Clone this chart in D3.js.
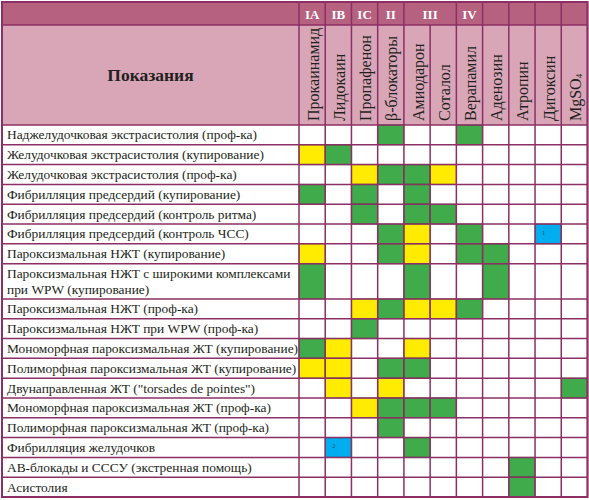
<!DOCTYPE html>
<html><head><meta charset="utf-8">
<script src="https://cdn.jsdelivr.net/npm/d3@7"></script>
<style>html,body{margin:0;padding:0;background:#fff}svg{display:block}</style>
</head><body>
<script>
// ---- data ----
const indications = [
  "Наджелудочковая экстрасистолия (проф-ка)",
  "Желудочковая экстрасистолия (купирование)",
  "Желудочковая экстрасистолия (проф-ка)",
  "Фибрилляция предсердий (купирование)",
  "Фибрилляция предсердий (контроль ритма)",
  "Фибрилляция предсердий (контроль ЧСС)",
  "Пароксизмальная НЖТ (купирование)",
  "Пароксизмальная НЖТ с широкими комплексами\nпри WPW (купирование)",
  "Пароксизмальная НЖТ (проф-ка)",
  "Пароксизмальная НЖТ при WPW (проф-ка)",
  "Мономорфная пароксизмальная ЖТ (купирование)",
  "Полиморфная пароксизмальная ЖТ (купирование)",
  "Двунаправленная ЖТ (\"torsades de pointes\")",
  "Мономорфная пароксизмальная ЖТ (проф-ка)",
  "Полиморфная пароксизмальная ЖТ (проф-ка)",
  "Фибрилляция желудочков",
  "АВ-блокады и СССУ (экстренная помощь)",
  "Асистолия"
];
const drugs = ["Прокаинамид","Лидокаин","Пропафенон","β-блокаторы","Амиодарон","Соталол","Верапамил","Аденозин","Атропин","Дигоксин","MgSO4"];
const drugClasses = ["IA","IB","IC","II","III","III","IV","","","",""];
// g = green, y = yellow, digit = blue with footnote number, . = empty
const cellCodes = [
  "...g..g....",
  "yg.........",
  "..yggy.....",
  "g.g.g......",
  "..g.gg.....",
  "...gy.g..1.",
  "y..gy.gg...",
  "g...g..g...",
  "..ygyyg....",
  "..g........",
  "gy..y......",
  "yy.gg......",
  ".y.y......g",
  "..yggg.....",
  "...g.......",
  ".2..g......",
  "........g..",
  "........g.."
];
const headerTitle = "Показания";

// ---- layout ----
const W = 589, H = 500;
const xL = 2, xR = 587.5, yT = 2;
const firstColRight = 299;
const hdr1Bottom = 25, hdr2Bottom = 125, yB = 497;
const grid = "#8c2f64";
const colors = {g:"#3fab4b", y:"#ffec00", b:"#00aeef"};
const FONT = "'Liberation Serif', 'DejaVu Serif', serif";

const svg = d3.select("body").append("svg").attr("width", W).attr("height", H);

const x = d3.scaleBand().domain(d3.range(drugs.length)).range([firstColRight, xR]).paddingInner(0).paddingOuter(0);

const lines = indications.map(s => s.split("\n"));
const units = lines.map(l => 1 + (l.length - 1) * 0.78);
const cum = [0]; units.forEach(u => cum.push(cum[cum.length-1] + u));
const yU = d3.scaleLinear().domain([0, cum[cum.length-1]]).range([hdr2Bottom, yB]);

// header backgrounds
svg.append("rect").attr("x", xL).attr("y", yT).attr("width", xR-xL).attr("height", hdr1Bottom-yT).attr("fill", "#b6617f");
svg.append("rect").attr("x", xL).attr("y", hdr1Bottom).attr("width", xR-xL).attr("height", hdr2Bottom-hdr1Bottom).attr("fill", "#d9a6b8");

// body cells
const cells = [];
cellCodes.forEach((s, r) => s.split("").forEach((c, ci) => { if (c !== ".") cells.push({r, ci, c}); }));
svg.append("g").selectAll("rect").data(cells).join("rect")
  .attr("x", d => x(d.ci)).attr("y", d => yU(cum[d.r]))
  .attr("width", x.bandwidth()).attr("height", d => yU(cum[d.r+1]) - yU(cum[d.r]))
  .attr("fill", d => /\d/.test(d.c) ? colors.b : colors[d.c])
  .attr("stroke", "rgba(60,60,40,0.55)").attr("stroke-width", 1.2);
svg.append("g").selectAll("text").data(cells.filter(d => /\d/.test(d.c))).join("text")
  .attr("x", d => x(d.ci) + 7).attr("y", d => (yU(cum[d.r]) + yU(cum[d.r+1]))/2 - 1)
  .attr("font-family", FONT).attr("font-size", 6).attr("fill", "#1f3a5a")
  .attr("dominant-baseline", "central").text(d => d.c);

// grid lines
const gl = svg.append("g").attr("stroke", grid).attr("stroke-width", 1.5);
cum.forEach(c => gl.append("line").attr("x1", xL).attr("x2", xR).attr("y1", yU(c)).attr("y2", yU(c)));
gl.append("line").attr("x1", xL).attr("x2", xR).attr("y1", hdr1Bottom).attr("y2", hdr1Bottom);
const vlines = d3.range(drugs.length + 1).map(i => i < drugs.length ? x(i) : xR);
vlines.forEach((vx, i) => {
  const mergedTop = i > 0 && i < drugs.length && drugClasses[i] !== "" && drugClasses[i] === drugClasses[i-1];
  gl.append("line").attr("x1", vx).attr("x2", vx).attr("y1", mergedTop ? hdr1Bottom : yT).attr("y2", yB);
});
svg.append("rect").attr("x", xL).attr("y", yT).attr("width", xR-xL).attr("height", yB-yT)
  .attr("fill", "none").attr("stroke", grid).attr("stroke-width", 2);

// class labels (merge consecutive equal)
const groups = [];
drugClasses.forEach((c, i) => {
  const g = groups[groups.length-1];
  if (g && c !== "" && g.label === c) g.end = i; else groups.push({label:c, start:i, end:i});
});
svg.append("g").selectAll("text").data(groups.filter(g => g.label)).join("text")
  .attr("x", g => (x(g.start) + x(g.end) + x.bandwidth())/2).attr("y", (yT + hdr1Bottom)/2 + 1)
  .attr("text-anchor", "middle").attr("dominant-baseline", "central")
  .attr("font-family", FONT).attr("font-weight", "bold").attr("font-size", 13)
  .attr("fill", "#fff").text(g => g.label);

// title
svg.append("text").attr("x", (xL + firstColRight)/2).attr("y", (hdr1Bottom + hdr2Bottom)/2)
  .attr("text-anchor", "middle").attr("dominant-baseline", "central")
  .attr("font-family", FONT).attr("font-weight", "bold").attr("font-size", 17.5)
  .attr("fill", "#231f20").text(headerTitle);

// drug names rotated
const dn = svg.append("g").selectAll("text").data(drugs).join("text")
  .attr("transform", (d, i) => `translate(${x(i) + x.bandwidth()/2 + 1},${hdr2Bottom - 4}) rotate(-90)`)
  .attr("dominant-baseline", "central")
  .attr("font-family", FONT).attr("font-size", 16).attr("fill", "#231f20");
dn.each(function(d) {
  const t = d3.select(this);
  const m = d.match(/^(.*?)(\d+)$/);
  if (m) {
    t.append("tspan").text(m[1]);
    t.append("tspan").attr("font-size", 9).attr("dy", 4).text(m[2]);
  } else t.text(d);
});

// row labels
svg.append("g").selectAll("text").data(lines).join("text")
  .attr("font-family", FONT).attr("font-size", 13.4).attr("fill", "#231f20")
  .each(function(l, r) {
    const t = d3.select(this);
    const cy = (yU(cum[r]) + yU(cum[r+1]))/2;
    const lh = 16;
    l.forEach((s, k) => {
      t.append("tspan").attr("x", 7).attr("y", cy + (k - (l.length-1)/2) * lh)
        .attr("dominant-baseline", "central").text(s);
    });
  });
</script>
</body></html>
